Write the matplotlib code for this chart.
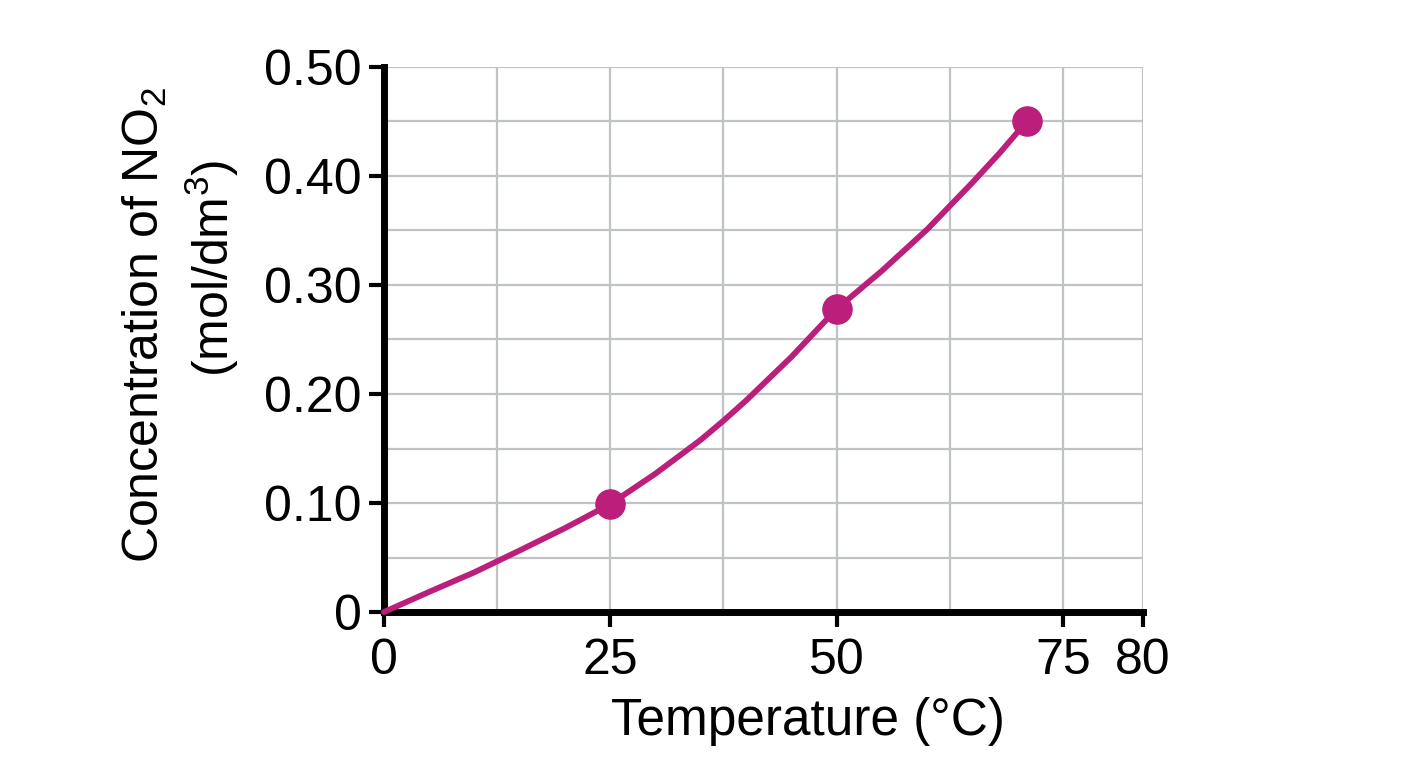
from matplotlib import pyplot as plt
from matplotlib.ticker import FixedLocator, FixedFormatter
import numpy as np

plt.rcParams["font.family"] = ["Liberation Sans", "DejaVu Sans"]
plt.rcParams["mathtext.fontset"] = "custom"
plt.rcParams["mathtext.rm"] = "Liberation Sans"

# ------------------------------------------------------------------------ data
temp_points = [25, 50, 71]
conc_points = [0.099, 0.278, 0.45]

# curve
temp_curve = [0, 5, 10, 15, 20, 25, 30, 35, 37.5, 40, 45, 50, 55, 60, 65, 68, 71]
conc_curve = [0, 0.0185, 0.0365, 0.0565, 0.077, 0.099, 0.127, 0.158, 0.1755, 0.194,
              0.234, 0.278, 0.313, 0.351, 0.394, 0.421, 0.45]

x_ticks = [0, 25, 50, 75, 80]
x_labels = ["0", "25", "50", "75", "80"]
y_ticks = [0, 0.1, 0.2, 0.3, 0.4, 0.5]
y_labels = ["0", "0.10", "0.20", "0.30", "0.40", "0.50"]

colour = "#bb1e7b"

# the drawn axis stretches the last 5 degrees
xp = [-100, 0, 75, 80, 200]
fp = [-100, 0, 75, 83.84, 83.84 + 120 * 1.768]


def forward(x):
    return np.interp(x, xp, fp)


def inverse(y):
    return np.interp(y, fp, xp)


# ---------------------------------------------------------------------- figure
fig = plt.figure(figsize=(14.08, 7.68), dpi=100)
ax = fig.add_axes([0.2727, 0.2031, 0.5391, 0.7097])
ax.set_xscale("function", functions=(forward, inverse))
ax.set_xlim(0, 80)
ax.set_ylim(0, 0.5)

ax.xaxis.set_major_locator(FixedLocator(x_ticks))
ax.xaxis.set_major_formatter(FixedFormatter(x_labels))
ax.xaxis.set_minor_locator(FixedLocator([12.5, 37.5, 62.5]))
ax.yaxis.set_major_locator(FixedLocator(y_ticks))
ax.yaxis.set_major_formatter(FixedFormatter(y_labels))
ax.yaxis.set_minor_locator(FixedLocator([0.05, 0.15, 0.25, 0.35, 0.45]))

ax.grid(which="both", color="#bfc3c5", lw=1.6)
ax.set_axisbelow(True)

for side in ["top", "right"]:
    ax.spines[side].set_visible(False)
for side in ["left", "bottom"]:
    ax.spines[side].set_linewidth(5)
    ax.spines[side].set_capstyle("projecting")

ax.tick_params(which="major", length=11, width=3, labelsize=36, color="black")
ax.tick_params(axis="y", which="major", pad=5)
ax.tick_params(axis="x", which="major", pad=8)
ax.tick_params(which="minor", length=0)

ax.plot(temp_curve, conc_curve, color=colour, lw=4.2, solid_capstyle="round",
        solid_joinstyle="round", clip_on=False, zorder=3)
ax.plot(temp_points, conc_points, "o", color=colour, ms=21, clip_on=False, zorder=4)

ax.set_xlabel("Temperature (°C)", fontsize=37)
ax.xaxis.set_label_coords(0.559, -0.155)
ax.text(-0.315, 0.527, "Concentration of NO$_2$", rotation=90, fontsize=36,
        ha="center", va="center", transform=ax.transAxes)
ax.text(-0.227, 0.631, "(mol/dm$^3$)", rotation=90, fontsize=36,
        ha="center", va="center", transform=ax.transAxes)

fig.savefig("out.png", dpi=100)
